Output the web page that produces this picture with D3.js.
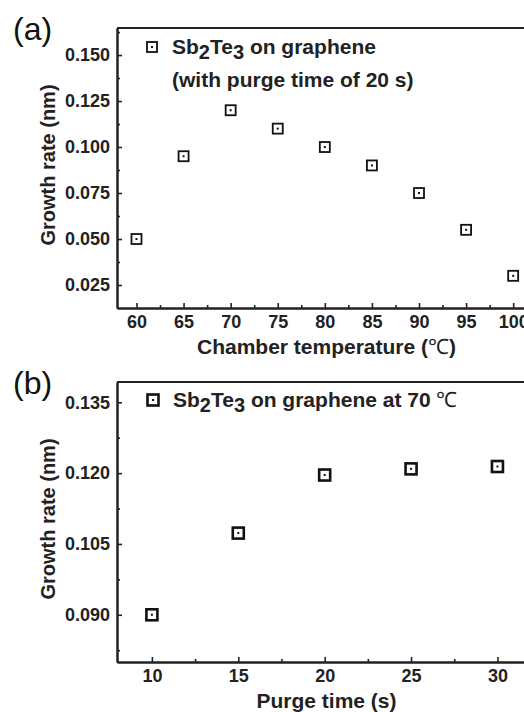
<!DOCTYPE html>
<html>
<head>
<meta charset="utf-8">
<script src="https://cdn.jsdelivr.net/npm/d3@7"></script>
<style>
  body { margin: 0; background: #fff; }
  svg { display: block; font-family: "Liberation Sans", Arial, sans-serif; }
  .axis path, .axis line { stroke: #222; }
  .axis text { font-size: 18px; font-weight: bold; fill: #222; }
</style>
</head>
<body>
<svg id="chart"></svg>
<script>
// panel (a): growth rate vs chamber temperature
var tempC = [60, 65, 70, 75, 80, 85, 90, 95, 100];
var rateByTemp = [0.050, 0.095, 0.120, 0.110, 0.100, 0.090, 0.075, 0.055, 0.030];
var tempTicks = [60, 65, 70, 75, 80, 85, 90, 95, 100];
var tempMinor = [62.5, 67.5, 72.5, 77.5, 82.5, 87.5, 92.5, 97.5];
var rateTicksA = [0.025, 0.050, 0.075, 0.100, 0.125, 0.150];
var rateMinorA = [0.0375, 0.0625, 0.0875, 0.1125, 0.1375, 0.1625];

// panel (b): growth rate vs purge time
var purgeS = [10, 15, 20, 25, 30];
var rateByPurge = [0.090, 0.1073, 0.1196, 0.1209, 0.1214];
var purgeTicks = [10, 15, 20, 25, 30];
var purgeMinor = [12.5, 17.5, 22.5, 27.5];
var rateTicksB = [0.090, 0.105, 0.120, 0.135];
var rateMinorB = [0.0825, 0.0975, 0.1125, 0.1275];

var width = 524, height = 712;
var svg = d3.select("#chart").attr("width", width).attr("height", height);

function drawPanel(opts) {
    var g = svg.append("g");
    var xScale = d3.scaleLinear().domain(opts.xDomain).range([opts.left, opts.right]);
    var yScale = d3.scaleLinear().domain(opts.yDomain).range([opts.bottom, opts.top]);

    // frame top line (right side is off-canvas)
    g.append("line")
        .attr("x1", opts.left).attr("x2", opts.right)
        .attr("y1", opts.top).attr("y2", opts.top)
        .attr("stroke", "#222").attr("stroke-width", 2);

    var xAxis = d3.axisBottom(xScale).tickValues(opts.xTicks)
        .tickSize(-5).tickSizeOuter(0).tickPadding(7).tickFormat(d3.format("d"));
    var xMinor = d3.axisBottom(xScale).tickValues(opts.xMinor)
        .tickSize(-3).tickSizeOuter(0).tickFormat("");
    var yAxis = d3.axisLeft(yScale).tickValues(opts.yTicks)
        .tickSize(-5).tickSizeOuter(0).tickPadding(7).tickFormat(d3.format(".3f"));
    var yMinor = d3.axisLeft(yScale).tickValues(opts.yMinor)
        .tickSize(-3).tickSizeOuter(0).tickFormat("");

    g.append("g").attr("class", "axis")
        .attr("transform", "translate(0," + opts.bottom + ")").call(xMinor);
    g.append("g").attr("class", "axis")
        .attr("transform", "translate(0," + opts.bottom + ")").call(xAxis);
    g.append("g").attr("class", "axis")
        .attr("transform", "translate(" + opts.left + ",0)").call(yMinor);
    g.append("g").attr("class", "axis")
        .attr("transform", "translate(" + opts.left + ",0)").call(yAxis);
    g.selectAll(".axis path").attr("stroke-width", 2);
    g.selectAll(".axis line").attr("stroke-width", 1.6);

    // axis titles
    g.append("text")
        .attr("transform", "translate(55," + ((opts.top + opts.bottom) / 2 - 3) + ") rotate(-90)")
        .attr("text-anchor", "middle")
        .attr("font-size", 20).attr("font-weight", "bold").attr("fill", "#222")
        .text("Growth rate (nm)");
    var xt = g.append("text")
        .attr("x", (opts.left + opts.right) / 2 + 2).attr("y", opts.bottom + 46)
        .attr("text-anchor", "middle")
        .attr("font-size", 21).attr("font-weight", "bold").attr("fill", "#222");
    xt.append("tspan").text(opts.xTitle);
    if (opts.xUnit) {
        xt.append("tspan").text(" (");
        xt.append("tspan").attr("font-weight", "normal").text("\u2103");
        xt.append("tspan").text(")");
    }

    // panel letter
    g.append("text")
        .attr("x", 13).attr("y", opts.top + 12)
        .attr("font-size", 32).attr("fill", "#111")
        .text(opts.letter);

    // markers: open squares with a centre dot
    var pts = g.selectAll(".pt")
        .data(opts.xs.map(function (d, i) { return [d, opts.ys[i]]; }))
        .enter().append("g")
        .attr("class", "pt")
        .attr("transform", function (d) {
            return "translate(" + xScale(d[0]) + "," + yScale(d[1]) + ")";
        });
    var s = opts.markerSize;
    pts.append("rect")
        .attr("x", -s / 2).attr("y", -s / 2).attr("width", s).attr("height", s)
        .attr("fill", "none").attr("stroke", "#111").attr("stroke-width", opts.markerStroke);
    pts.append("rect")
        .attr("x", -1).attr("y", -1).attr("width", 2).attr("height", 2).attr("fill", "#111");

    // legend
    var lg = g.append("g").attr("transform", "translate(" + opts.legX + "," + opts.legY + ")");
    lg.append("rect")
        .attr("x", -s / 2).attr("y", -s / 2).attr("width", s).attr("height", s)
        .attr("fill", "none").attr("stroke", "#111").attr("stroke-width", opts.markerStroke);
    lg.append("rect")
        .attr("x", -1).attr("y", -1).attr("width", 2).attr("height", 2).attr("fill", "#111");

    var t = lg.append("text")
        .attr("x", 20).attr("y", 7)
        .attr("font-size", 21).attr("font-weight", "bold").attr("fill", "#222");
    t.append("tspan").text("Sb");
    t.append("tspan").attr("dy", 5).attr("font-size", 20).text("2");
    t.append("tspan").attr("dy", -5).text("Te");
    t.append("tspan").attr("dy", 5).attr("font-size", 20).text("3");
    t.append("tspan").attr("dy", -5).text(opts.legendRest);
    if (opts.legendDeg) {
        t.append("tspan").attr("font-weight", "normal").text(" \u2103");
    }

    if (opts.legendLine2) {
        lg.append("text")
            .attr("x", 20).attr("y", 40)
            .attr("font-size", 21).attr("font-weight", "bold").attr("fill", "#222")
            .text(opts.legendLine2);
    }
}

drawPanel({
    letter: "(a)",
    left: 117, right: 532, top: 28, bottom: 308,
    xDomain: [57.93, 102.0], yDomain: [0.0125, 0.1647],
    xTicks: tempTicks, xMinor: tempMinor, yTicks: rateTicksA, yMinor: rateMinorA,
    xs: tempC, ys: rateByTemp,
    xTitle: "Chamber temperature", xUnit: true,
    markerSize: 10, markerStroke: 1.8,
    legX: 152, legY: 47,
    legendRest: " on graphene",
    legendLine2: "(with purge time of 20 s)"
});

drawPanel({
    letter: "(b)",
    left: 117, right: 532, top: 382, bottom: 662,
    xDomain: [7.98, 32.0], yDomain: [0.0800, 0.1393],
    xTicks: purgeTicks, xMinor: purgeMinor, yTicks: rateTicksB, yMinor: rateMinorB,
    xs: purgeS, ys: rateByPurge,
    xTitle: "Purge time (s)", xUnit: false,
    markerSize: 11, markerStroke: 2.6,
    legX: 153, legY: 400,
    legendRest: " on graphene at 70", legendDeg: true,
    legendLine2: null
});
</script>
</body>
</html>
